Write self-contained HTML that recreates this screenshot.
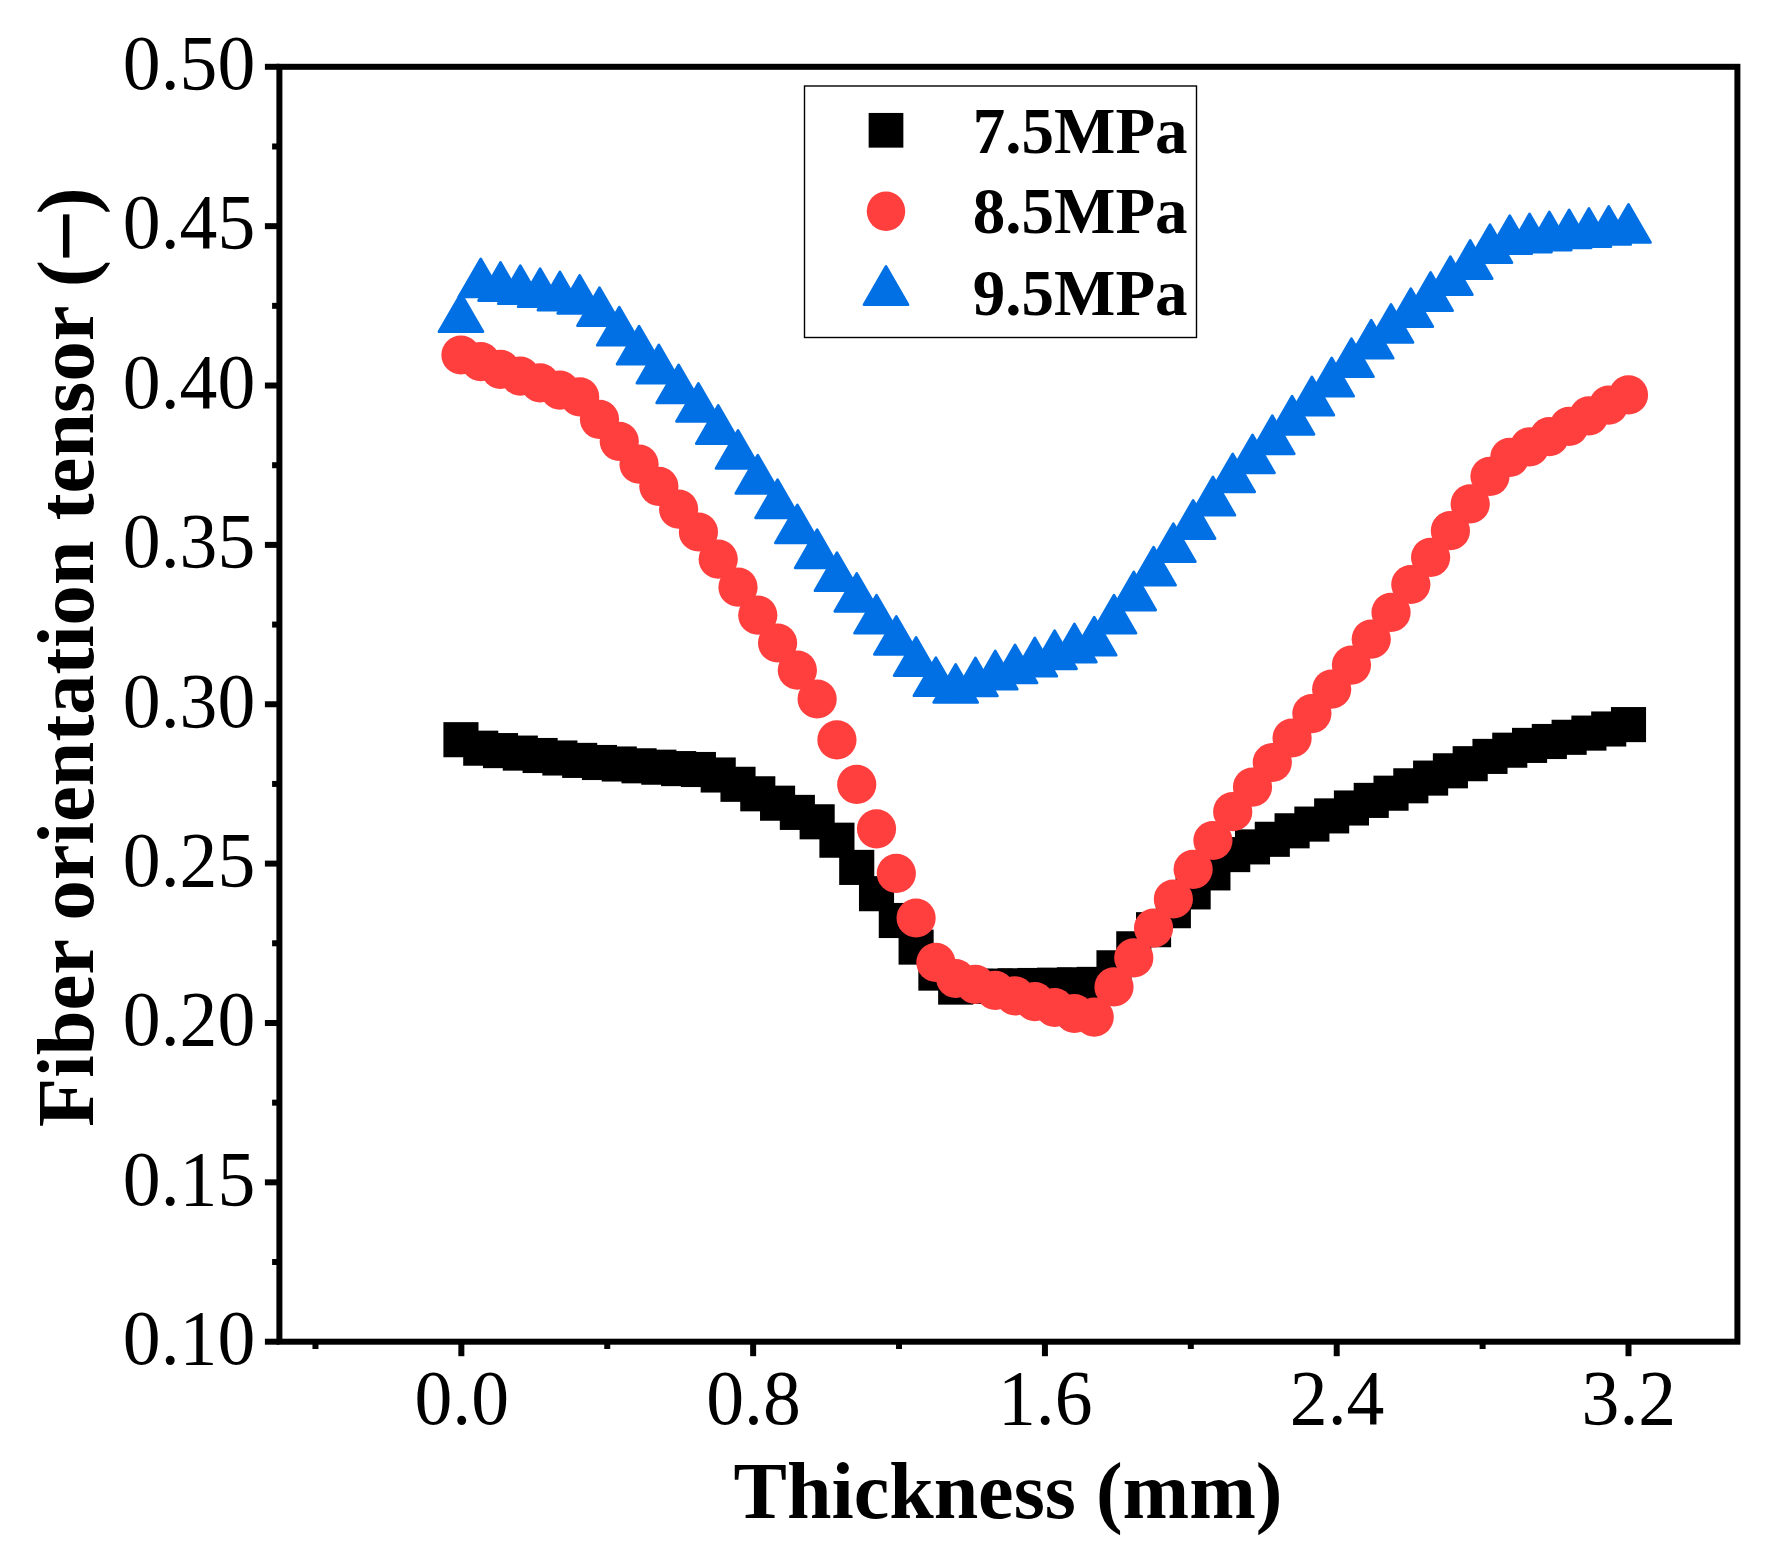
<!DOCTYPE html>
<html lang="en"><head><meta charset="utf-8"><title>Fiber orientation tensor vs thickness</title>
<style>
html,body{margin:0;padding:0;background:#fff;}
body{width:1770px;height:1549px;overflow:hidden;}
svg{display:block;}
text{font-family:"Liberation Serif","Times New Roman",Times,serif;fill:#000;}
.tk{font-size:75.7px;}
.tt{font-size:80px;font-weight:bold;}
.lg{font-size:65px;font-weight:bold;}
</style></head><body>
<svg width="1770" height="1549" viewBox="0 0 1770 1549">
<rect x="0" y="0" width="1770" height="1549" fill="#fff"/>
<g id="s-black" fill="#000">
<rect x="443.4" y="722.15" width="35.1" height="35.1"/>
<rect x="463.19" y="730.65" width="35.1" height="35.1"/>
<rect x="482.98" y="733.05" width="35.1" height="35.1"/>
<rect x="502.77" y="735.55" width="35.1" height="35.1"/>
<rect x="522.56" y="737.95" width="35.1" height="35.1"/>
<rect x="542.34" y="740.45" width="35.1" height="35.1"/>
<rect x="562.13" y="742.85" width="35.1" height="35.1"/>
<rect x="581.92" y="744.95" width="35.1" height="35.1"/>
<rect x="601.71" y="746.45" width="35.1" height="35.1"/>
<rect x="621.5" y="748.25" width="35.1" height="35.1"/>
<rect x="641.29" y="749.65" width="35.1" height="35.1"/>
<rect x="661.08" y="751.05" width="35.1" height="35.1"/>
<rect x="680.87" y="751.95" width="35.1" height="35.1"/>
<rect x="700.66" y="757.45" width="35.1" height="35.1"/>
<rect x="720.45" y="766.75" width="35.1" height="35.1"/>
<rect x="740.23" y="776.25" width="35.1" height="35.1"/>
<rect x="760.02" y="785.65" width="35.1" height="35.1"/>
<rect x="779.81" y="794.85" width="35.1" height="35.1"/>
<rect x="799.6" y="804.25" width="35.1" height="35.1"/>
<rect x="819.39" y="822.65" width="35.1" height="35.1"/>
<rect x="839.18" y="849.85" width="35.1" height="35.1"/>
<rect x="858.97" y="876.15" width="35.1" height="35.1"/>
<rect x="878.76" y="902.95" width="35.1" height="35.1"/>
<rect x="898.55" y="929.55" width="35.1" height="35.1"/>
<rect x="918.34" y="955.55" width="35.1" height="35.1"/>
<rect x="938.12" y="969.55" width="35.1" height="35.1"/>
<rect x="957.91" y="968.85" width="35.1" height="35.1"/>
<rect x="977.7" y="968.55" width="35.1" height="35.1"/>
<rect x="997.49" y="968.25" width="35.1" height="35.1"/>
<rect x="1017.28" y="967.95" width="35.1" height="35.1"/>
<rect x="1037.07" y="967.65" width="35.1" height="35.1"/>
<rect x="1056.86" y="967.25" width="35.1" height="35.1"/>
<rect x="1076.65" y="966.85" width="35.1" height="35.1"/>
<rect x="1096.44" y="950.25" width="35.1" height="35.1"/>
<rect x="1116.23" y="931.25" width="35.1" height="35.1"/>
<rect x="1136.01" y="912.15" width="35.1" height="35.1"/>
<rect x="1155.8" y="893.15" width="35.1" height="35.1"/>
<rect x="1175.59" y="874.35" width="35.1" height="35.1"/>
<rect x="1195.38" y="855.35" width="35.1" height="35.1"/>
<rect x="1215.17" y="837.05" width="35.1" height="35.1"/>
<rect x="1234.96" y="829.35" width="35.1" height="35.1"/>
<rect x="1254.75" y="821.75" width="35.1" height="35.1"/>
<rect x="1274.54" y="813.25" width="35.1" height="35.1"/>
<rect x="1294.33" y="806.55" width="35.1" height="35.1"/>
<rect x="1314.12" y="798.35" width="35.1" height="35.1"/>
<rect x="1333.9" y="790.45" width="35.1" height="35.1"/>
<rect x="1353.69" y="782.85" width="35.1" height="35.1"/>
<rect x="1373.48" y="775.65" width="35.1" height="35.1"/>
<rect x="1393.27" y="768.25" width="35.1" height="35.1"/>
<rect x="1413.06" y="760.55" width="35.1" height="35.1"/>
<rect x="1432.85" y="753.25" width="35.1" height="35.1"/>
<rect x="1452.64" y="746.15" width="35.1" height="35.1"/>
<rect x="1472.43" y="738.85" width="35.1" height="35.1"/>
<rect x="1492.22" y="732.65" width="35.1" height="35.1"/>
<rect x="1512.01" y="727.85" width="35.1" height="35.1"/>
<rect x="1531.79" y="723.95" width="35.1" height="35.1"/>
<rect x="1551.58" y="719.75" width="35.1" height="35.1"/>
<rect x="1571.37" y="715.55" width="35.1" height="35.1"/>
<rect x="1591.16" y="711.45" width="35.1" height="35.1"/>
<rect x="1610.95" y="707.05" width="35.1" height="35.1"/>
</g>
<g id="s-red" fill="#FF3E3E">
<circle cx="460.95" cy="355" r="19.6"/>
<circle cx="480.74" cy="361.7" r="19.6"/>
<circle cx="500.53" cy="369.3" r="19.6"/>
<circle cx="520.32" cy="376.1" r="19.6"/>
<circle cx="540.11" cy="382.9" r="19.6"/>
<circle cx="559.89" cy="390.2" r="19.6"/>
<circle cx="579.68" cy="396.9" r="19.6"/>
<circle cx="599.47" cy="419.3" r="19.6"/>
<circle cx="619.26" cy="441.3" r="19.6"/>
<circle cx="639.05" cy="464.2" r="19.6"/>
<circle cx="658.84" cy="486.3" r="19.6"/>
<circle cx="678.63" cy="509.2" r="19.6"/>
<circle cx="698.42" cy="532" r="19.6"/>
<circle cx="718.21" cy="559.2" r="19.6"/>
<circle cx="738" cy="587.2" r="19.6"/>
<circle cx="757.78" cy="615.2" r="19.6"/>
<circle cx="777.57" cy="643" r="19.6"/>
<circle cx="797.36" cy="670.2" r="19.6"/>
<circle cx="817.15" cy="699" r="19.6"/>
<circle cx="836.94" cy="739.8" r="19.6"/>
<circle cx="856.73" cy="784.4" r="19.6"/>
<circle cx="876.52" cy="828.8" r="19.6"/>
<circle cx="896.31" cy="873.4" r="19.6"/>
<circle cx="916.1" cy="918" r="19.6"/>
<circle cx="935.89" cy="962.4" r="19.6"/>
<circle cx="955.67" cy="978.5" r="19.6"/>
<circle cx="975.46" cy="984.4" r="19.6"/>
<circle cx="995.25" cy="990.3" r="19.6"/>
<circle cx="1015.04" cy="995.8" r="19.6"/>
<circle cx="1034.83" cy="1001.6" r="19.6"/>
<circle cx="1054.62" cy="1007.5" r="19.6"/>
<circle cx="1074.41" cy="1013.5" r="19.6"/>
<circle cx="1094.2" cy="1017.1" r="19.6"/>
<circle cx="1113.99" cy="986.9" r="19.6"/>
<circle cx="1133.78" cy="957.8" r="19.6"/>
<circle cx="1153.56" cy="928.1" r="19.6"/>
<circle cx="1173.35" cy="899" r="19.6"/>
<circle cx="1193.14" cy="869.3" r="19.6"/>
<circle cx="1212.93" cy="840.5" r="19.6"/>
<circle cx="1232.72" cy="811.7" r="19.6"/>
<circle cx="1252.51" cy="787.1" r="19.6"/>
<circle cx="1272.3" cy="762.5" r="19.6"/>
<circle cx="1292.09" cy="738" r="19.6"/>
<circle cx="1311.88" cy="713.6" r="19.6"/>
<circle cx="1331.67" cy="689.2" r="19.6"/>
<circle cx="1351.45" cy="665.1" r="19.6"/>
<circle cx="1371.24" cy="639.2" r="19.6"/>
<circle cx="1391.03" cy="612.4" r="19.6"/>
<circle cx="1410.82" cy="584.5" r="19.6"/>
<circle cx="1430.61" cy="557.4" r="19.6"/>
<circle cx="1450.4" cy="530.7" r="19.6"/>
<circle cx="1470.19" cy="503.9" r="19.6"/>
<circle cx="1489.98" cy="476.3" r="19.6"/>
<circle cx="1509.77" cy="457.3" r="19.6"/>
<circle cx="1529.56" cy="446.9" r="19.6"/>
<circle cx="1549.34" cy="436.7" r="19.6"/>
<circle cx="1569.13" cy="426.3" r="19.6"/>
<circle cx="1588.92" cy="415.8" r="19.6"/>
<circle cx="1608.71" cy="405.1" r="19.6"/>
<circle cx="1628.5" cy="394.9" r="19.6"/>
</g>
<g id="s-blue" fill="#0070E4" stroke="#0070E4" stroke-width="2.7" stroke-linejoin="round">
<polygon points="438.95,331.75 482.95,331.75 460.95,293.64"/>
<polygon points="458.74,296.95 502.74,296.95 480.74,258.84"/>
<polygon points="478.53,300.65 522.53,300.65 500.53,262.54"/>
<polygon points="498.32,303.75 542.32,303.75 520.32,265.64"/>
<polygon points="518.11,306.75 562.11,306.75 540.11,268.64"/>
<polygon points="537.89,310.05 581.89,310.05 559.89,271.94"/>
<polygon points="557.68,313.45 601.68,313.45 579.68,275.34"/>
<polygon points="577.47,325.75 621.47,325.75 599.47,287.64"/>
<polygon points="597.26,345.25 641.26,345.25 619.26,307.14"/>
<polygon points="617.05,364.25 661.05,364.25 639.05,326.14"/>
<polygon points="636.84,383.05 680.84,383.05 658.84,344.94"/>
<polygon points="656.63,402.95 700.63,402.95 678.63,364.84"/>
<polygon points="676.42,421.45 720.42,421.45 698.42,383.34"/>
<polygon points="696.21,443.65 740.21,443.65 718.21,405.54"/>
<polygon points="716,468.45 760,468.45 738,430.34"/>
<polygon points="735.78,493.35 779.78,493.35 757.78,455.24"/>
<polygon points="755.57,517.85 799.57,517.85 777.57,479.74"/>
<polygon points="775.36,542.95 819.36,542.95 797.36,504.84"/>
<polygon points="795.15,567.85 839.15,567.85 817.15,529.74"/>
<polygon points="814.94,590.75 858.94,590.75 836.94,552.64"/>
<polygon points="834.73,611.45 878.73,611.45 856.73,573.34"/>
<polygon points="854.52,633.25 898.52,633.25 876.52,595.14"/>
<polygon points="874.31,654.45 918.31,654.45 896.31,616.34"/>
<polygon points="894.1,675.65 938.1,675.65 916.1,637.54"/>
<polygon points="913.89,695.75 957.89,695.75 935.89,657.64"/>
<polygon points="933.67,702.45 977.67,702.45 955.67,664.34"/>
<polygon points="953.46,695.95 997.46,695.95 975.46,657.84"/>
<polygon points="973.25,689.15 1017.25,689.15 995.25,651.04"/>
<polygon points="993.04,682.95 1037.04,682.95 1015.04,644.84"/>
<polygon points="1012.83,676.15 1056.83,676.15 1034.83,638.04"/>
<polygon points="1032.62,668.85 1076.62,668.85 1054.62,630.74"/>
<polygon points="1052.41,662.05 1096.41,662.05 1074.41,623.94"/>
<polygon points="1072.2,655.25 1116.2,655.25 1094.2,617.14"/>
<polygon points="1091.99,633.25 1135.99,633.25 1113.99,595.14"/>
<polygon points="1111.78,610.05 1155.78,610.05 1133.78,571.94"/>
<polygon points="1131.56,585.25 1175.56,585.25 1153.56,547.14"/>
<polygon points="1151.35,561.75 1195.35,561.75 1173.35,523.64"/>
<polygon points="1171.14,538.55 1215.14,538.55 1193.14,500.44"/>
<polygon points="1190.93,515.15 1234.93,515.15 1212.93,477.04"/>
<polygon points="1210.72,491.95 1254.72,491.95 1232.72,453.84"/>
<polygon points="1230.51,472.95 1274.51,472.95 1252.51,434.84"/>
<polygon points="1250.3,453.85 1294.3,453.85 1272.3,415.74"/>
<polygon points="1270.09,434.35 1314.09,434.35 1292.09,396.24"/>
<polygon points="1289.88,415.15 1333.88,415.15 1311.88,377.04"/>
<polygon points="1309.67,396.15 1353.67,396.15 1331.67,358.04"/>
<polygon points="1329.45,376.75 1373.45,376.75 1351.45,338.64"/>
<polygon points="1349.24,358.25 1393.24,358.25 1371.24,320.14"/>
<polygon points="1369.03,342.45 1413.03,342.45 1391.03,304.34"/>
<polygon points="1388.82,326.75 1432.82,326.75 1410.82,288.64"/>
<polygon points="1408.61,310.65 1452.61,310.65 1430.61,272.54"/>
<polygon points="1428.4,294.75 1472.4,294.75 1450.4,256.64"/>
<polygon points="1448.19,278.65 1492.19,278.65 1470.19,240.54"/>
<polygon points="1467.98,262.75 1511.98,262.75 1489.98,224.64"/>
<polygon points="1487.77,253.75 1531.77,253.75 1509.77,215.64"/>
<polygon points="1507.56,252.05 1551.56,252.05 1529.56,213.94"/>
<polygon points="1527.34,250.05 1571.34,250.05 1549.34,211.94"/>
<polygon points="1547.13,247.95 1591.13,247.95 1569.13,209.84"/>
<polygon points="1566.92,246.65 1610.92,246.65 1588.92,208.54"/>
<polygon points="1586.71,244.45 1630.71,244.45 1608.71,206.34"/>
<polygon points="1606.5,242.45 1650.5,242.45 1628.5,204.34"/>
</g>
<g id="frame" fill="none" stroke="#000" stroke-width="6">
<rect x="279.4" y="66.8" width="1458" height="1274.9"/>
</g>
<g id="ticks" stroke="#000" stroke-width="6">
<line x1="264.9" y1="1341.7" x2="279.4" y2="1341.7"/>
<line x1="272.1" y1="1262.02" x2="279.4" y2="1262.02"/>
<line x1="264.9" y1="1182.34" x2="279.4" y2="1182.34"/>
<line x1="272.1" y1="1102.66" x2="279.4" y2="1102.66"/>
<line x1="264.9" y1="1022.98" x2="279.4" y2="1022.98"/>
<line x1="272.1" y1="943.29" x2="279.4" y2="943.29"/>
<line x1="264.9" y1="863.61" x2="279.4" y2="863.61"/>
<line x1="272.1" y1="783.93" x2="279.4" y2="783.93"/>
<line x1="264.9" y1="704.25" x2="279.4" y2="704.25"/>
<line x1="272.1" y1="624.57" x2="279.4" y2="624.57"/>
<line x1="264.9" y1="544.89" x2="279.4" y2="544.89"/>
<line x1="272.1" y1="465.21" x2="279.4" y2="465.21"/>
<line x1="264.9" y1="385.52" x2="279.4" y2="385.52"/>
<line x1="272.1" y1="305.84" x2="279.4" y2="305.84"/>
<line x1="264.9" y1="226.16" x2="279.4" y2="226.16"/>
<line x1="272.1" y1="146.48" x2="279.4" y2="146.48"/>
<line x1="264.9" y1="66.8" x2="279.4" y2="66.8"/>
<line x1="461.35" y1="1341.7" x2="461.35" y2="1356.2"/>
<line x1="315.46" y1="1341.7" x2="315.46" y2="1349"/>
<line x1="753.14" y1="1341.7" x2="753.14" y2="1356.2"/>
<line x1="607.24" y1="1341.7" x2="607.24" y2="1349"/>
<line x1="1044.93" y1="1341.7" x2="1044.93" y2="1356.2"/>
<line x1="899.03" y1="1341.7" x2="899.03" y2="1349"/>
<line x1="1336.71" y1="1341.7" x2="1336.71" y2="1356.2"/>
<line x1="1190.82" y1="1341.7" x2="1190.82" y2="1349"/>
<line x1="1628.5" y1="1341.7" x2="1628.5" y2="1356.2"/>
<line x1="1482.61" y1="1341.7" x2="1482.61" y2="1349"/>
</g>
<g id="ylabels" class="tk" text-anchor="end">
<text transform="translate(255.3,1364) scale(1,1.045)">0.10</text>
<text transform="translate(255.3,1204.64) scale(1,1.045)">0.15</text>
<text transform="translate(255.3,1045.28) scale(1,1.045)">0.20</text>
<text transform="translate(255.3,885.91) scale(1,1.045)">0.25</text>
<text transform="translate(255.3,726.55) scale(1,1.045)">0.30</text>
<text transform="translate(255.3,567.19) scale(1,1.045)">0.35</text>
<text transform="translate(255.3,407.82) scale(1,1.045)">0.40</text>
<text transform="translate(255.3,248.46) scale(1,1.045)">0.45</text>
<text transform="translate(255.3,89.1) scale(1,1.045)">0.50</text>
</g>
<g id="xlabels" class="tk" text-anchor="middle">
<text transform="translate(461.75,1424.3) scale(1,1.045)">0.0</text>
<text transform="translate(753.54,1424.3) scale(1,1.045)">0.8</text>
<text transform="translate(1045.33,1424.3) scale(1,1.045)">1.6</text>
<text transform="translate(1337.11,1424.3) scale(1,1.045)">2.4</text>
<text transform="translate(1628.9,1424.3) scale(1,1.045)">3.2</text>
</g>
<text class="tt" text-anchor="middle" x="1008" y="1517.5">Thickness (mm)</text>
<g transform="translate(93.2,1126.9) rotate(-90)">
<text class="tt" style="font-size:80.5px" x="0" y="0">Fiber orientation tensor (<tspan x="864.45" y="3.85" style="font-size:93px">−</tspan><tspan x="912.6" y="0">)</tspan></text>
</g>
<g id="legend">
<rect x="804.5" y="86" width="392" height="251.5" fill="#fff" stroke="#000" stroke-width="1.4"/>
<rect x="868.65" y="112.95" width="34.7" height="34.7" fill="#000"/>
<ellipse cx="886" cy="211.25" rx="19.25" ry="19.65" fill="#FF3E3E"/>
<g fill="#0070E4" stroke="#0070E4" stroke-width="2.7" stroke-linejoin="round"><polygon points="864,304.65 908,304.65 886,266.54"/></g>
<text class="lg" x="972.8" y="152.5">7.5MPa</text>
<text class="lg" x="972.8" y="233">8.5MPa</text>
<text class="lg" x="972.8" y="315">9.5MPa</text>
</g>
</svg>
</body></html>
